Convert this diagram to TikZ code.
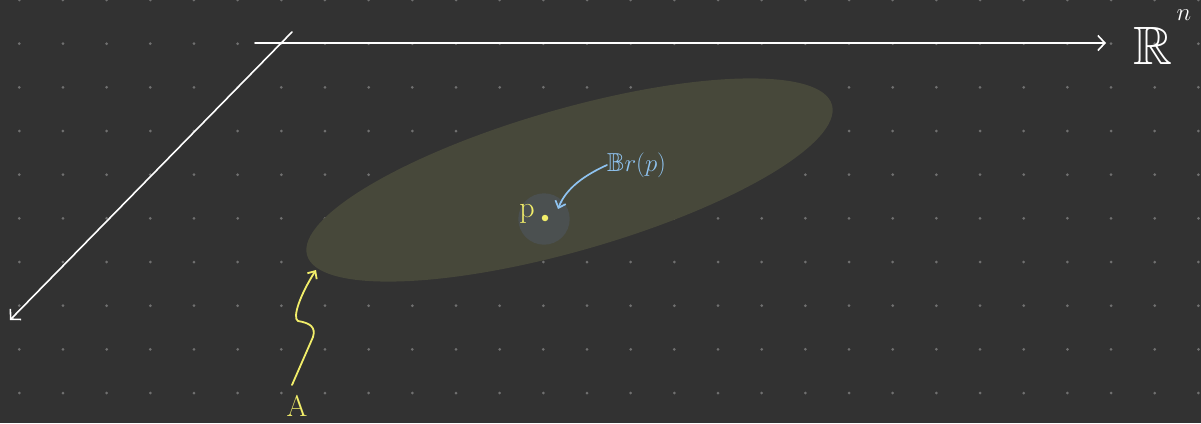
\documentclass[tikz,border=0pt]{standalone}
\usepackage{amssymb}
\usetikzlibrary{arrows.meta}
\definecolor{bg}{HTML}{323232}
\definecolor{griddot}{HTML}{707070}
\definecolor{blob}{HTML}{47483A}
\definecolor{ball}{HTML}{4B5050}
\definecolor{hlyellow}{HTML}{F2EE6A}
\definecolor{hlblue}{HTML}{8FC3F0}
\tikzset{
  axis/.style={draw=white, line width=1.6pt, line cap=round, -{Straight Barb[length=7pt,width=15pt,line width=1.6pt]}},
  yellowarrow/.style={draw=hlyellow, line width=1.8pt, line cap=round, line join=round, -{Straight Barb[length=6pt,width=11pt,line width=1.8pt]}},
  bluearrow/.style={draw=hlblue, line width=1.7pt, line cap=round, -{Straight Barb[length=6pt,width=11pt,line width=1.7pt]}},
  lab/.style={inner sep=0pt, font=\fontsize{30}{34}\selectfont},
}
\begin{document}
\begin{tikzpicture}[x=1pt,y=-1pt]
\fill[bg] (0,0) rectangle (1201,423);
\useasboundingbox (0,0) rectangle (1201,423);
% dotted grid
\foreach \i in {0,...,27} {
  \foreach \j in {0,...,9} {
    \fill[griddot] ({19.3+43.67*\i},{43.67*\j}) circle (1.5);
  }
}
% region A
\fill[blob] (569.5,180) ellipse[x radius=273, y radius=71, rotate=16];
% ball
\fill[ball] (544,219) circle (25.7);
% axes
\coordinate (hstart) at (255,43);
\coordinate (hend) at (1106,43);
\coordinate (dstart) at (292,32);
\coordinate (dend) at (10,320);
\draw[axis] (hstart) -- (hend);
\draw[axis] (dstart) -- (dend);
\node[lab, text=white, font=\fontsize{54}{58}\selectfont] (Rn) at (1153,46) {$\mathbb{R}$};
\node[lab, text=white, font=\fontsize{30}{34}\selectfont] (n) at (1184,15) {$n$};
% point p
\node[circle, fill=hlyellow, inner sep=0pt, minimum size=6.5pt] (pt) at (545,218) {};
\node[lab, text=hlyellow] (plab) at (527,214) {p};
% ball label
\node[lab, text=hlblue, font=\fontsize{26}{30}\selectfont, anchor=west] (blab) at (607,165) {$\mathbb{B}r(p)$};
\coordinate (btip) at (558,209);
\draw[bluearrow] (blab.west) .. controls (585,175) and (566,188) .. (btip);
% A label
\node[lab, text=hlyellow] (Alab) at (297,406) {A};
\coordinate (atip) at (316,270);
\draw[yellowarrow] (292,385) -- (313,337) .. controls (316,327) and (310,323) .. (298,321)
  .. controls (292,318) and (300,295) .. (atip);
\end{tikzpicture}
\end{document}
